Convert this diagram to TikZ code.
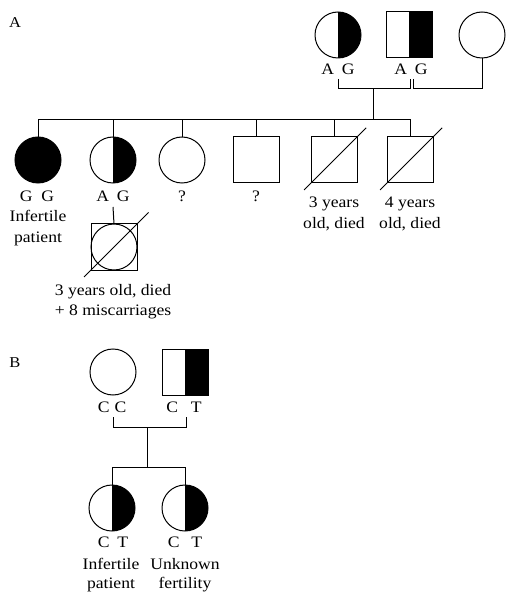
\documentclass[tikz,border=0pt]{standalone}
\usepackage{fontspec}
\setmainfont{Liberation Serif}[FakeStretch=1.1]
\usetikzlibrary{calc}
\begin{document}
\begin{tikzpicture}[x=1pt,y=-1pt,
  every node/.style={inner sep=0pt, outer sep=0pt},
  lbl/.style={font=\fontsize{16}{19}\selectfont, anchor=base},
  panel/.style={font=\fontsize{15}{18}\selectfont, anchor=base},
  fem/.style={circle, draw, line width=1pt, minimum size=46pt},
  mal/.style={rectangle, draw, line width=1pt, minimum size=46pt},
  halffill/.style={path picture={\fill (path picture bounding box.north) rectangle (path picture bounding box.south east);}},
  affected/.style={fill=black},
  link/.style={line width=1pt},
  slash/.style={line width=1pt}
]
\useasboundingbox (0,0) rectangle (506,593);

% ---------- Panel A ----------
\node[panel] (labA) at (15,28) {A};
\node[fem,halffill] (p1) at (338,35) {};
\node[mal,halffill] (p2) at (409,35) {};
\node[fem] (p3) at (482,35) {};
\node[lbl] (g1) at (338,75) {A\hspace{8pt}G};
\node[lbl] (g2) at (411,75) {A\hspace{8pt}G};

\coordinate (m1L) at (338,79);
\coordinate (m1R) at (410,79);
\coordinate (m2L) at (413,79);
\coordinate (m1c) at (373,89);
\coordinate (sibA) at (373,120);
\draw[link] (m1L) -- ++(0,10) -| (m1R);
\draw[link] (m2L) -- ++(0,10) -| (p3.south);
\draw[link] (m1c) -- (sibA);

\node[fem,affected] (c1) at (38,160) {};
\node[fem,halffill] (c2) at (113,160) {};
\node[fem] (c3) at (182,160) {};
\node[mal] (c4) at (256,160) {};
\node[mal] (c5) at (334,160) {};
\node[mal] (c6) at (410,160) {};
\foreach \c in {c1,c2,c3,c4,c5,c6} \draw[link] (\c.north) |- (sibA);

\draw[slash] ($(c5.south west)!-0.15!(c5.north east)$) -- ($(c5.north east)!-0.2!(c5.south west)$);
\draw[slash] ($(c6.south west)!-0.15!(c6.north east)$) -- ($(c6.north east)!-0.2!(c6.south west)$);

\node[lbl] (t1) at (37,202) {G\hspace{9pt}G};
\node[lbl] (t1b) at (38,222) {Infertile};
\node[lbl] (t1c) at (38,243) {patient};
\node[lbl] (t2) at (113,202) {A\hspace{8pt}G};
\node[lbl] (t3) at (182,202) {?};
\node[lbl] (t4) at (256,202) {?};
\node[lbl] (t5) at (334,208) {3 years};
\node[lbl] (t5b) at (334,229) {old, died};
\node[lbl] (t6) at (410,208) {4 years};
\node[lbl] (t6b) at (410,229) {old, died};

\coordinate (gcTop) at (113,207);
\node[mal] (gs) at (114,247) {};
\node[fem] (gc) at (114,247) {};
\draw[link] (gcTop) -- (gs.north);
\draw[slash] ($(gs.south west)!-0.15!(gs.north east)$) -- ($(gs.north east)!-0.25!(gs.south west)$);
\node[lbl] (t7) at (113,295) {3 years old, died};
\node[lbl] (t7b) at (113,315) {+ 8 miscarriages};

% ---------- Panel B ----------
\node[panel] (labB) at (15,367) {B};
\node[fem] (q1) at (113,372) {};
\node[mal,halffill] (q2) at (185,372) {};
\node[lbl] (u1) at (112,412) {C\hspace{5pt}C};
\node[lbl] (u2) at (184,412) {C\hspace{13pt}T};

\coordinate (n1L) at (113,417);
\coordinate (n1R) at (186,417);
\coordinate (n1c) at (147,427);
\coordinate (sibB) at (147,467);
\draw[link] (n1L) -- ++(0,10) -| (n1R);
\draw[link] (n1c) -- (sibB);

\node[fem,halffill] (d1) at (112,508) {};
\node[fem,halffill] (d2) at (185,508) {};
\draw[link] (d1.north) |- (sibB);
\draw[link] (d2.north) |- (sibB);

\node[lbl] (v1) at (113,547) {C\hspace{8pt}T};
\node[lbl] (v2) at (185,547) {C\hspace{12pt}T};
\node[lbl] (v1b) at (111,569) {Infertile};
\node[lbl] (v1c) at (111,588) {patient};
\node[lbl] (v2b) at (185,569) {Unknown};
\node[lbl] (v2c) at (185,588) {fertility};
\end{tikzpicture}
\end{document}
